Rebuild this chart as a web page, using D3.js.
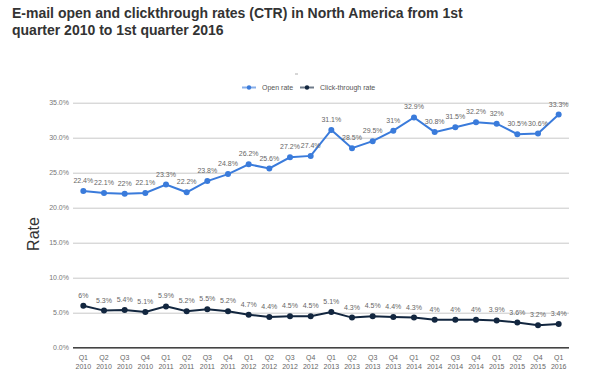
<!DOCTYPE html>
<html>
<head>
<meta charset="utf-8">
<script src="https://cdn.jsdelivr.net/npm/d3@7"></script>
<style>
  body { margin: 0; background: #fff; }
  svg { font-family: "Liberation Sans", Arial, sans-serif; }
</style>
</head>
<body>
<svg id="chart" width="600" height="379"></svg>
<script>
const quarters = ['Q1', 'Q2', 'Q3', 'Q4', 'Q1', 'Q2', 'Q3', 'Q4', 'Q1', 'Q2', 'Q3', 'Q4',
  'Q1', 'Q2', 'Q3', 'Q4', 'Q1', 'Q2', 'Q3', 'Q4', 'Q1', 'Q2', 'Q4', 'Q1'];
const years = ['2010', '2010', '2010', '2010', '2011', '2011', '2011', '2011', '2012', '2012', '2012', '2012',
  '2013', '2013', '2013', '2013', '2014', '2014', '2014', '2014', '2015', '2015', '2015', '2016'];
const openRate = [22.4, 22.1, 22, 22.1, 23.3, 22.2, 23.8, 24.8, 26.2, 25.6, 27.2, 27.4,
  31.1, 28.5, 29.5, 31, 32.9, 30.8, 31.5, 32.2, 32, 30.5, 30.6, 33.3];
const ctr = [6, 5.3, 5.4, 5.1, 5.9, 5.2, 5.5, 5.2, 4.7, 4.4, 4.5, 4.5,
  5.1, 4.3, 4.5, 4.4, 4.3, 4, 4, 4, 3.9, 3.6, 3.2, 3.4];
const yTicks = [0, 5, 10, 15, 20, 25, 30, 35];

const series = [
  { name: 'Open rate', values: openRate, color: '#3a7bdb' },
  { name: 'Click-through rate', values: ctr, color: '#12263f' }
];

const svg = d3.select('#chart');
const plotLeft = 73, plotRight = 569, plotTop = 102.7, plotBottom = 347.7;
const keys = quarters.map((q, i) => i);

const x = d3.scalePoint().domain(keys).range([plotLeft, plotRight]).padding(0.5);
const y = d3.scaleLinear().domain([0, 35]).range([plotBottom, plotTop]);

// title
const title = svg.append('text')
  .attr('fill', '#333')
  .attr('font-size', 14)
  .attr('font-weight', 'bold');
title.append('tspan').attr('x', 12).attr('y', 18).text('E-mail open and clickthrough rates (CTR) in North America from 1st');
title.append('tspan').attr('x', 12).attr('y', 35).text('quarter 2010 to 1st quarter 2016');

// tiny dash above legend
svg.append('line')
  .attr('x1', 295).attr('x2', 298).attr('y1', 74).attr('y2', 74)
  .attr('stroke', '#999').attr('stroke-width', 0.8);

// legend
const legendX = [242, 300];
series.forEach((s, i) => {
  const lx = legendX[i];
  const g = svg.append('g');
  g.append('line')
    .attr('x1', lx).attr('x2', lx + 14).attr('y1', 87.5).attr('y2', 87.5)
    .attr('stroke', s.color).attr('stroke-width', 2).attr('opacity', 0.6);
  g.append('circle').attr('cx', lx + 7).attr('cy', 87.5).attr('r', 2.2).attr('fill', s.color);
  g.append('text')
    .attr('x', lx + 20).attr('y', 90)
    .attr('font-size', 7).attr('fill', '#555')
    .text(s.name);
});

// grid
svg.append('g')
  .attr('transform', `translate(${plotLeft},0)`)
  .call(d3.axisLeft(y).tickValues(yTicks).tickSize(-(plotRight - plotLeft)).tickFormat(d => d.toFixed(1) + '%'))
  .call(g => g.select('.domain').remove())
  .call(g => g.selectAll('.tick line').attr('stroke', '#c8c8c8').attr('stroke-width', 1))
  .call(g => g.selectAll('.tick text').attr('x', -4).attr('fill', '#777').attr('font-size', 7)
    .attr('font-family', '"Liberation Sans", Arial, sans-serif'));

// baseline
svg.append('line')
  .attr('x1', plotLeft).attr('x2', plotRight).attr('y1', y(0)).attr('y2', y(0))
  .attr('stroke', '#444').attr('stroke-width', 1.6);

// y label
svg.append('text')
  .attr('transform', 'translate(39,234) rotate(-90)')
  .attr('text-anchor', 'middle')
  .attr('font-size', 16)
  .attr('fill', '#333')
  .text('Rate');

// x labels
const xl = svg.append('g');
keys.forEach(i => {
  const t = xl.append('text')
    .attr('text-anchor', 'middle')
    .attr('font-size', 7)
    .attr('fill', '#666');
  t.append('tspan').attr('x', x(i)).attr('y', 360).text(quarters[i]);
  t.append('tspan').attr('x', x(i)).attr('y', 369).text(years[i]);
});

// lines + points + labels
const line = d3.line().x((d, i) => x(i)).y(d => y(d));
series.forEach(s => {
  const g = svg.append('g');
  g.append('path')
    .datum(s.values)
    .attr('d', line)
    .attr('fill', 'none')
    .attr('stroke', s.color)
    .attr('stroke-width', 2);
  g.selectAll('circle')
    .data(s.values)
    .join('circle')
    .attr('cx', (d, i) => x(i))
    .attr('cy', d => y(d))
    .attr('r', 3)
    .attr('fill', s.color);
  g.selectAll('text')
    .data(s.values)
    .join('text')
    .attr('x', (d, i) => x(i))
    .attr('y', d => y(d) - 8)
    .attr('text-anchor', 'middle')
    .attr('font-size', 7)
    .attr('fill', '#666')
    .text(d => d + '%');
});
</script>
</body>
</html>
